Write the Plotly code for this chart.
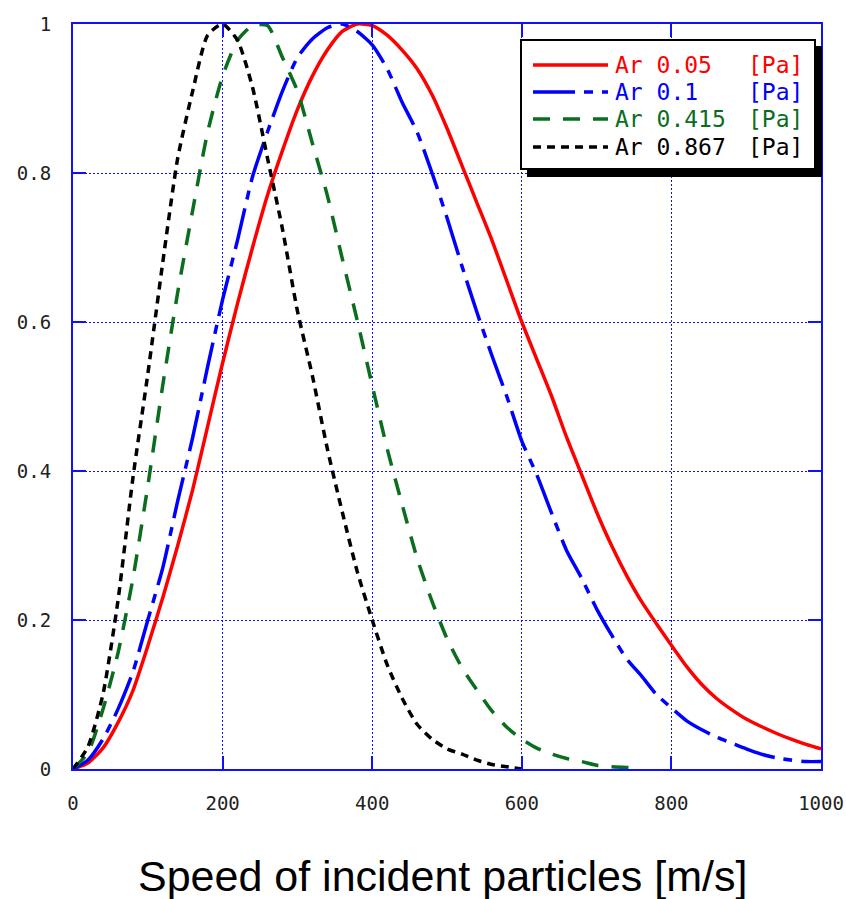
import plotly.graph_objects as go

# ---------------- data ----------------
speed = list(range(0, 1001, 20))  # m/s sampling grid

ar_005 = [0.0, 0.008, 0.028, 0.062, 0.105, 0.165, 0.23, 0.3, 0.375, 0.46,
          0.545, 0.625, 0.70, 0.77, 0.83, 0.885, 0.93, 0.965, 0.99, 1.0,
          0.998, 0.985, 0.965, 0.94, 0.905, 0.86, 0.81, 0.76, 0.71, 0.655,
          0.6, 0.55, 0.5, 0.445, 0.395, 0.345, 0.30, 0.26, 0.225, 0.195,
          0.166, 0.138, 0.114, 0.095, 0.08, 0.067, 0.057, 0.048, 0.04, 0.033,
          0.027]

ar_01 = [0.0, 0.012, 0.04, 0.08, 0.13, 0.2, 0.27, 0.36, 0.445, 0.54,
         0.63, 0.71, 0.795, 0.855, 0.91, 0.955, 0.98, 0.995, 1.0, 0.99,
         0.972, 0.94, 0.895, 0.855, 0.8, 0.74, 0.675, 0.613, 0.555, 0.5,
         0.44, 0.395, 0.343, 0.293, 0.256, 0.215, 0.18, 0.148, 0.125, 0.1,
         0.082, 0.065, 0.053, 0.043, 0.035, 0.027, 0.02, 0.015, 0.012, 0.01,
         0.01]

ar_0415 = [0.0, 0.022, 0.08, 0.155, 0.255, 0.38, 0.515, 0.64, 0.75, 0.855,
           0.93, 0.978, 0.998, 0.998, 0.955, 0.91, 0.84, 0.77, 0.685, 0.602,
           0.515, 0.43, 0.355, 0.283, 0.225, 0.175, 0.136, 0.106, 0.078, 0.056,
           0.04, 0.028, 0.02, 0.014, 0.01, 0.005, 0.003, 0.002, 0.001]

ar_0867 = [0.0, 0.03, 0.1, 0.225, 0.39, 0.53, 0.68, 0.82, 0.91, 0.985,
           1.0, 0.978, 0.915, 0.82, 0.725, 0.615, 0.528, 0.43, 0.345, 0.265,
           0.2, 0.14, 0.095, 0.06, 0.04, 0.027, 0.02, 0.012, 0.006, 0.003,
           0.0]

series_names = ["Ar 0.05", "Ar 0.1", "Ar 0.415", "Ar 0.867"]
unit_label = "[Pa]"
x_ticks = [0, 200, 400, 600, 800, 1000]
y_ticks = [0, 0.2, 0.4, 0.6, 0.8, 1]
x_title = "Speed of incident particles [m/s]"

# ---------------- styling ----------------
series_values = [ar_005, ar_01, ar_0415, ar_0867]
colors = ["#ff0000", "#0000ff", "#0a6e1e", "#000000"]
dashes = ["solid", "42px,9px,9px,9px", "17px,13px", "8px,6px"]
widths = [3.5, 3.5, 3.5, 3.5]

W, H = 846, 899
L, R, T, B = 73, 25, 24, 130
PW, PH = W - L - R, H - T - B


def px(x):
    return (x - L) / PW


def py(y):
    return (T + PH - y) / PH


AXIS_BLUE = "#1010ff"

fig = go.Figure()
for name, vals, c, d, w in zip(series_names, series_values, colors, dashes, widths):
    fig.add_trace(go.Scatter(
        x=speed[:len(vals)], y=vals, mode="lines", name=name,
        line=dict(color=c, width=w, dash=d, shape="spline", smoothing=0.6),
        showlegend=False,
    ))

axis_common = dict(
    showline=True, linecolor=AXIS_BLUE, linewidth=2, mirror="ticks",
    ticks="inside", ticklen=13, tickwidth=2, tickcolor=AXIS_BLUE,
    showgrid=True, gridcolor=AXIS_BLUE, gridwidth=1, griddash="2px,2px",
    zeroline=False, fixedrange=True, automargin=False,
    tickfont=dict(family="DejaVu Sans Mono", size=19, color="#222222"),
    ticklabelstandoff=16,
)

fig.update_layout(
    width=W, height=H,
    margin=dict(l=L, r=R, t=T, b=B),
    paper_bgcolor="white", plot_bgcolor="white",
    xaxis=dict(range=[0, 1000], tickvals=x_ticks, **axis_common),
    yaxis=dict(range=[0, 1], tickvals=y_ticks, **axis_common),
    showlegend=False,
)

# x-axis title
fig.add_annotation(
    text=x_title, xref="paper", yref="paper", x=px(442), y=py(876),
    xanchor="center", yanchor="middle", showarrow=False,
    font=dict(family="Liberation Sans", size=43, color="#000000"),
)

# ---------------- legend box (drawn manually, with drop shadow) ----------------
shapes = []
shapes.append(dict(type="rect", xref="paper", yref="paper",
                   x0=px(527), x1=px(822), y0=py(177), y1=py(46),
                   fillcolor="#000000", line=dict(width=0), layer="above"))
shapes.append(dict(type="rect", xref="paper", yref="paper",
                   x0=px(521), x1=px(815), y0=py(169), y1=py(40),
                   fillcolor="#ffffff", line=dict(color="#000000", width=2),
                   layer="above"))
row_y = [65, 92, 119, 147]
for ry, c, d in zip(row_y, colors, dashes):
    shapes.append(dict(type="line", xref="paper", yref="paper",
                       x0=px(533), x1=px(608), y0=py(ry), y1=py(ry),
                       line=dict(color=c, width=3.5, dash=d), layer="above"))
fig.update_layout(shapes=shapes)

for ry, c, name in zip(row_y, colors, series_names):
    fig.add_annotation(text=name, xref="paper", yref="paper",
                       x=px(613), y=py(ry), xanchor="left", yanchor="middle",
                       showarrow=False,
                       font=dict(family="DejaVu Sans Mono", size=23, color=c))
    fig.add_annotation(text=unit_label, xref="paper", yref="paper",
                       x=px(746), y=py(ry), xanchor="left", yanchor="middle",
                       showarrow=False,
                       font=dict(family="DejaVu Sans Mono", size=23, color=c))

fig.write_html(
    "out.html",
    config={"displayModeBar": False},
    post_script="document.body.style.margin='0';document.body.style.overflow='hidden';",
)
